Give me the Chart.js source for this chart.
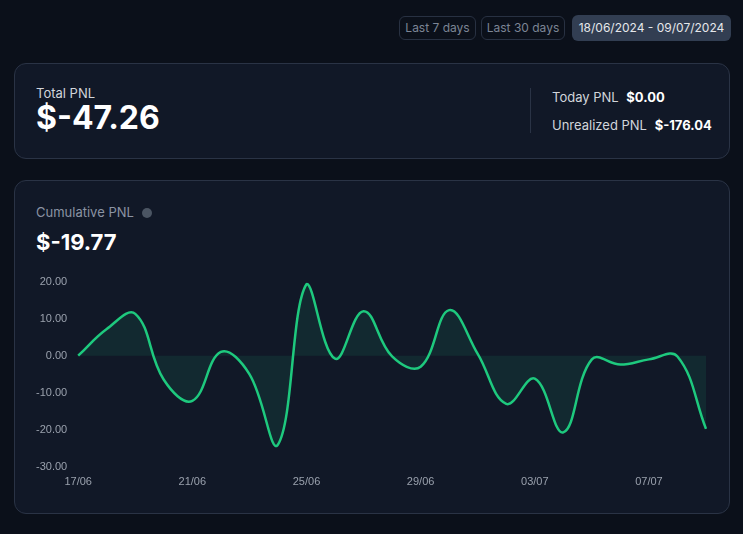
<!DOCTYPE html>
<html>
<head>
<meta charset="utf-8">
<script src="https://cdn.jsdelivr.net/npm/chart.js@4.4.0/dist/chart.umd.min.js"></script>
<style>
  html, body { margin: 0; padding: 0; }
  body {
    width: 743px; height: 534px; overflow: hidden;
    background: #0b101a; font-family: Inter, "Noto Sans", sans-serif; color: #e5e7eb;
    position: relative;
  }
  .btn {
    position: absolute; top: 16px; height: 24px; box-sizing: border-box;
    border: 1px solid #283142; border-radius: 6px; color: #7c8595;
    font-size: 12px; line-height: 22px; text-align: center;
  }
  .card {
    position: absolute; left: 14px; width: 716px; box-sizing: border-box;
    background: #111827; border: 1px solid #2a3345; border-radius: 12px;
  }
  .label { position: absolute; font-size: 13px; color: #d1d5db; }
  .big { position: absolute; font-weight: 700; color: #fff; }
  #chart-wrap { position: absolute; left: 33px; top: 272px; width: 674px; height: 218px; }
</style>
</head>
<body>
  <div class="btn" style="left:399px;width:77px;">Last 7 days</div>
  <div class="btn" style="left:481px;width:84px;">Last 30 days</div>
  <div class="btn" style="left:572px;width:159px;height:26px;top:15px;line-height:26px;border:none;background:#323e52;color:#e5e7eb;">18/06/2024 - 09/07/2024</div>

  <div class="card" style="top:63px;height:96px;"></div>
  <div class="label" style="left:36px;top:85px;">Total PNL</div>
  <div class="big" style="left:36px;top:98px;font-size:32px;">$-47.26</div>
  <div style="position:absolute;left:530px;top:88px;width:1px;height:45px;background:#2a3345;"></div>
  <div class="label" style="left:552px;top:89px;">Today PNL <b style="color:#fff;margin-left:4px;">$0.00</b></div>
  <div class="label" style="left:552px;top:117px;">Unrealized PNL <b style="color:#fff;margin-left:4px;">$-176.04</b></div>

  <div class="card" style="top:180px;height:334px;"></div>
  <div class="label" style="left:36px;top:204px;color:#8b93a3;">Cumulative PNL
    <span style="display:inline-block;width:10px;height:10px;border-radius:50%;background:#4b5563;margin-left:4px;vertical-align:-1px;"></span></div>
  <div class="big" style="left:36px;top:229px;font-size:22px;">$-19.77</div>

  <div id="chart-wrap"><canvas id="pnl-chart"></canvas></div>

<script>
// Daily cumulative PNL, 17/06 -> 09/07
const dates = [
  "17/06", "18/06", "19/06", "20/06", "21/06", "22/06", "23/06", "24/06",
  "25/06", "26/06", "27/06", "28/06", "29/06", "30/06", "01/07", "02/07",
  "03/07", "04/07", "05/07", "06/07", "07/07", "08/07", "09/07"
];
const cumulativePnl = [
  0, 7.2, 11.3, -6.5, -12.2, 1.0, -5.0, -24.0,
  19.3, -0.8, 12.0, -0.2, -3.0, 12.3, 0.5, -13.0,
  -6.2, -20.7, -1.0, -2.4, -1.0, -0.2, -19.77
];
const yTicks = [20, 10, 0, -10, -20, -30];

const ctx = document.getElementById("pnl-chart").getContext("2d");

new Chart(ctx, {
  type: "line",
  data: {
    labels: dates,
    datasets: [{
      label: "Cumulative PNL",
      data: cumulativePnl,
      borderColor: "#1ec97e",
      borderWidth: 2.5,
      backgroundColor: "rgba(30, 201, 126, 0.1)",
      fill: "origin",
      tension: 0.4,
      pointRadius: 0
    }]
  },
  options: {
    responsive: true,
    maintainAspectRatio: false,
    animation: false,
    plugins: { legend: { display: false }, tooltip: { enabled: false } },
    scales: {
      x: {
        grid: { display: false },
        border: { display: false },
        ticks: {
          color: "#9aa1ad",
          font: { family: "Liberation Sans", size: 11 },
          padding: 1,
          autoSkip: false,
          maxRotation: 0,
          // only every 4th day gets a label
          callback: (val, i) => (i % 4 === 0 ? dates[i] : "")
        }
      },
      y: {
        min: Math.min(...yTicks),
        max: Math.max(...yTicks),
        grid: { display: false },
        border: { display: false },
        ticks: {
          stepSize: 10,
          color: "#9aa1ad",
          font: { family: "Liberation Sans", size: 11 },
          callback: v => v.toFixed(2)
        }
      }
    }
  }
});
</script>
</body>
</html>
